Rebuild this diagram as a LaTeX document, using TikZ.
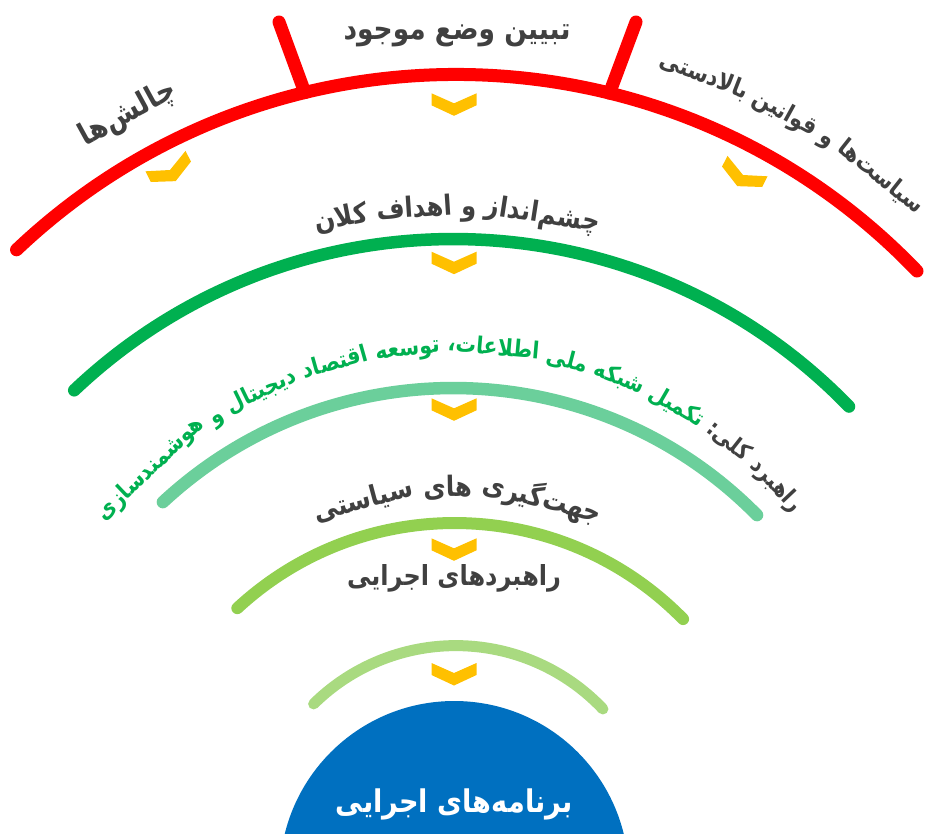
\documentclass[tikz,border=0pt]{standalone}
\usepackage{fontspec}
\usepackage{graphicx}
\usetikzlibrary{calc}
\TeXXeTstate=1
\newfontfamily\arabicfont[Script=Arabic]{DejaVu Sans Bold}
\definecolor{cRed}{HTML}{FF0000}
\definecolor{cGreenA}{HTML}{00B050}
\definecolor{cGreenB}{HTML}{6BCF9B}
\definecolor{cGreenC}{HTML}{92D050}
\definecolor{cGreenD}{HTML}{A9DA80}
\definecolor{cBlue}{HTML}{0070C0}
\definecolor{cGold}{HTML}{FFC000}
\definecolor{cText}{HTML}{404040}
\newlength\wlen
\newcounter{wd}
\newcommand\vstretch{1.15}
% measure width of #2 at size #1 into \wlen (global)
\newcommand\mw[2]{%
  \pgfinterruptpicture
  \settowidth\wlen{\arabicfont\fontsize{#1}{#1}\selectfont\beginR #2\endR}%
  \global\wlen=\wlen
  \endpgfinterruptpicture
}
\newcommand\fitsize[2]{%
  \mw{10}{#1}%
  \pgfmathsetmacro\fsz{10*#2/\wlen}%
}
\newcommand\fz{\arabicfont\fontsize{\fsz}{\fsz}\selectfont}
\newcommand\ftxt[1]{\scalebox{1}[\vstretch]{\fz\beginR #1\endR}}
\newcommand\arcsetup[5]{%
  \fitsize{#4}{#5}%
  \def\arcC{#1}\def\arcR{#2}%
  \mw{\fsz}{#4}%
  \pgfmathsetmacro\arcAng{#3+\wlen/#2*57.29578/2}%
  \mw{\fsz}{\ }%
  \pgfmathsetmacro\arcGap{\wlen/#2*57.29578}%
}
\newcommand\aw[2][]{%
  \mw{\fsz}{#2}%
  \pgfmathsetmacro\wspan{\wlen/\arcR*57.29578}%
  \pgfmathsetmacro\wmid{\arcAng-\wspan/2}%
  \pgfmathsetmacro\wrot{-(\wmid)-90}%
  \stepcounter{wd}%
  \node[atxt,#1,rotate=\wrot] (w\thewd) at ($(\arcC)+(\wmid:\arcR)$) {\ftxt{#2}};%
  \pgfmathsetmacro\arcAng{\arcAng-\wspan-\arcGap}%
}
\newcommand\stx[4][]{%
  \fitsize{#3}{#4}%
  \stepcounter{wd}%
  \node[atxt,#1] (w\thewd) at (#2) {\ftxt{#3}};%
}
\newcommand\band[6]{%
  \draw[bandline,#1,line width=#2] ($(#3)+(#5:#4)$) arc[start angle=#5, end angle=#6, radius=#4];%
}
\tikzset{
  atxt/.style={inner sep=0pt, anchor=base, text=cText},
  gtxt/.style={text=cGreenA},
  wtxt/.style={text=white},
  bandline/.style={line cap=round},
  chev/.pic={\fill[cGold] (-22.5,-10) -- (0,0) -- (22.5,-10) -- (22.5,2) -- (0,12.5) -- (-22.5,2) -- cycle;}
}
\begin{document}
\begin{tikzpicture}[x=1pt,y=-1pt]
\useasboundingbox (0,0) rectangle (931,833);
\coordinate (Cr) at (456.1,713.0);
\coordinate (Cg1) at (453.4,789.9);
\coordinate (Cg2) at (453.3,814.6);
\coordinate (Cg3) at (454.6,842.8);
\coordinate (Cg4) at (455.8,848.1);
\coordinate (Cb) at (454.25,875.5);
\coordinate (Ct) at (455,788);
\coordinate (spL) at (279,22);
\coordinate (spR) at (636,22);
% blue disc
\begin{scope}
\clip (0,0) rectangle (931,833);
\fill[cBlue] (Cb) circle[radius=174.5];
\end{scope}
% bands
\band{cRed}{13}{Cr}{638.6}{-133.5}{-43.8}
\draw[bandline,cRed,line width=13] ($(Cr)+(-103.7:638.6)$) -- (spL);
\draw[bandline,cRed,line width=13] ($(Cr)+(-76.1:638.6)$) -- (spR);
\band{cGreenA}{12.5}{Cg1}{550.9}{-133.5}{-44.1}
\band{cGreenB}{12.5}{Cg2}{426.6}{-132.9}{-44.6}
\band{cGreenC}{12}{Cg3}{319.8}{-132.8}{-44.4}
\band{cGreenD}{11}{Cg4}{202.5}{-134.6}{-43.4}
% chevrons
\pic at (454,103.3) {chev};
\pic[rotate=27] at (170,170) {chev};
\pic[rotate=-27] at (743,175) {chev};
\pic at (454,261.7) {chev};
\pic at (454,408.3) {chev};
\pic at (454,548.3) {chev};
\pic at (454,673) {chev};
% texts
\stx{457,39.5}{تبیین وضع موجود}{227}
\arcsetup{Cr}{675}{-118.7}{چالش^^^^200cها}{105}
\aw{چالش^^^^200cها}
\arcsetup{Cr}{677}{-59.95}{سیاست^^^^200cها و قوانین بالادستی}{300}
\aw{سیاست^^^^200cها}\aw{و}\aw{قوانین}\aw{بالادستی}
\arcsetup{Cg1}{574}{-89.6}{چشم^^^^200cانداز و اهداف کلان}{284}
\aw{چشم^^^^200cانداز}\aw{و}\aw{اهداف}\aw{کلان}
\arcsetup{Ct}{435}{-91.1}{راهبرد کلی: تکمیل شبکه ملی اطلاعات، توسعه اقتصاد دیجیتال و هوشمندسازی}{790}
\aw{راهبرد}\aw{کلی:}\aw[gtxt]{تکمیل}\aw[gtxt]{شبکه}\aw[gtxt]{ملی}\aw[gtxt]{اطلاعات،}\aw[gtxt]{توسعه}\aw[gtxt]{اقتصاد}\aw[gtxt]{دیجیتال}\aw[gtxt]{و}\aw[gtxt]{هوشمندسازی}
\arcsetup{Cg3}{346}{-89.5}{جهت^^^^200cگیری های سیاستی}{288}
\aw{جهت^^^^200cگیری}\aw{های}\aw{سیاستی}
\stx{454,585}{راهبردهای اجرایی}{214}
\stx[wtxt]{454,812.5}{برنامه^^^^200cهای اجرایی}{237}
\end{tikzpicture}
\end{document}
